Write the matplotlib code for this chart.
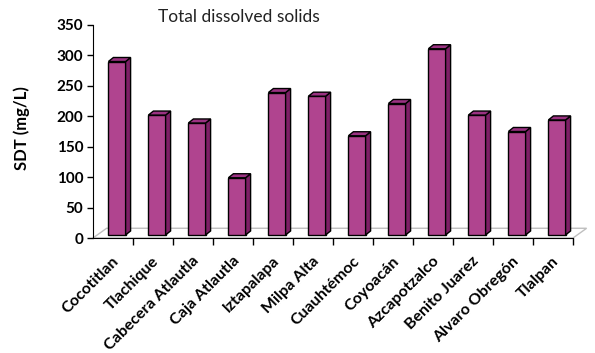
import matplotlib.pyplot as plt
from matplotlib.patches import Polygon
from matplotlib.transforms import ScaledTranslation
import numpy as np

sites = ['Cocotitlan', 'Tlachique', 'Cabecera Atlautla', 'Caja Atlautla', 'Iztapalapa',
         'Milpa Alta', 'Cuauhtémoc', 'Coyoacán', 'Azcapotzalco', 'Benito Juarez',
         'Alvaro Obregón', 'Tlalpan']
sdt = [290, 202, 189, 99, 239, 233, 168, 221, 311, 202, 175, 194]
yticks = [0, 50, 100, 150, 200, 250, 300, 350]

front_col = '#B0448F'
side_col = '#7E1F66'
top_col = '#9B3282'

plt.rcParams['font.family'] = ['Lato', 'DejaVu Sans']

fig = plt.figure(figsize=(5.95, 3.53), dpi=100)
ax = fig.add_axes([93 / 595, 1 - 238 / 353, 480 / 595, 213 / 353])

n = len(sites)
ax.set_xlim(0, n)
ax.set_ylim(0, 350)

# floor of the 3d box
fdx, fdy = 0.34, 16
floor = Polygon([(0, 0), (n, 0), (n + fdx, fdy), (fdx, fdy)], closed=True,
                facecolor='white', edgecolor='#BFBFBF', lw=1, clip_on=False, zorder=1)
ax.add_patch(floor)

# bars with side and top faces
w = 0.43
ddx, ddy = 0.125, 6.6
base = 5
x = np.arange(n) + 0.5 + 0.1
ax.bar(x, np.array(sdt) - base, bottom=base, width=w, color=front_col,
       edgecolor='black', lw=1, zorder=3)
for xi, v in zip(x, sdt):
    r = xi + w / 2
    l = xi - w / 2
    side = Polygon([(r, base), (r + ddx, base + ddy), (r + ddx, v + ddy), (r, v)],
                   closed=True, facecolor=side_col, edgecolor='black', lw=1, zorder=3)
    top = Polygon([(l, v), (r, v), (r + ddx, v + ddy), (l + ddx, v + ddy)],
                  closed=True, facecolor=top_col, edgecolor='black', lw=1, zorder=3)
    ax.add_patch(side)
    ax.add_patch(top)

for s in ['top', 'right']:
    ax.spines[s].set_visible(False)
ax.spines['left'].set_zorder(4)
ax.spines['bottom'].set_zorder(4)

ax.set_yticks(yticks)
ax.set_yticklabels([str(t) for t in yticks], fontsize=11, fontweight='bold')
ax.tick_params(axis='y', length=4, width=1, pad=3)

ax.set_xticks(np.arange(1, n + 1))
ax.set_xticklabels([])
ax.tick_params(axis='x', length=5, width=1, direction='out')

# category labels, rotated
off = ScaledTranslation(4 / 100, -21 / 100, fig.dpi_scale_trans)
for i, name in enumerate(sites):
    ax.text(i + 0.5, 0, name, transform=ax.get_xaxis_transform() + off,
            rotation=45, rotation_mode='anchor', ha='right', va='center',
            fontsize=11.5, fontweight='bold')

fig.text(22 / 595, 1 - 128 / 353, 'SDT (mg/L)', rotation=90, ha='center', va='center',
         fontsize=12, fontweight='bold')
fig.text(239 / 595, 1 - 17 / 353, 'Total dissolved solids', ha='center', va='center',
         fontsize=12.5, color='#222222')

fig.savefig('out.png', dpi=100)
